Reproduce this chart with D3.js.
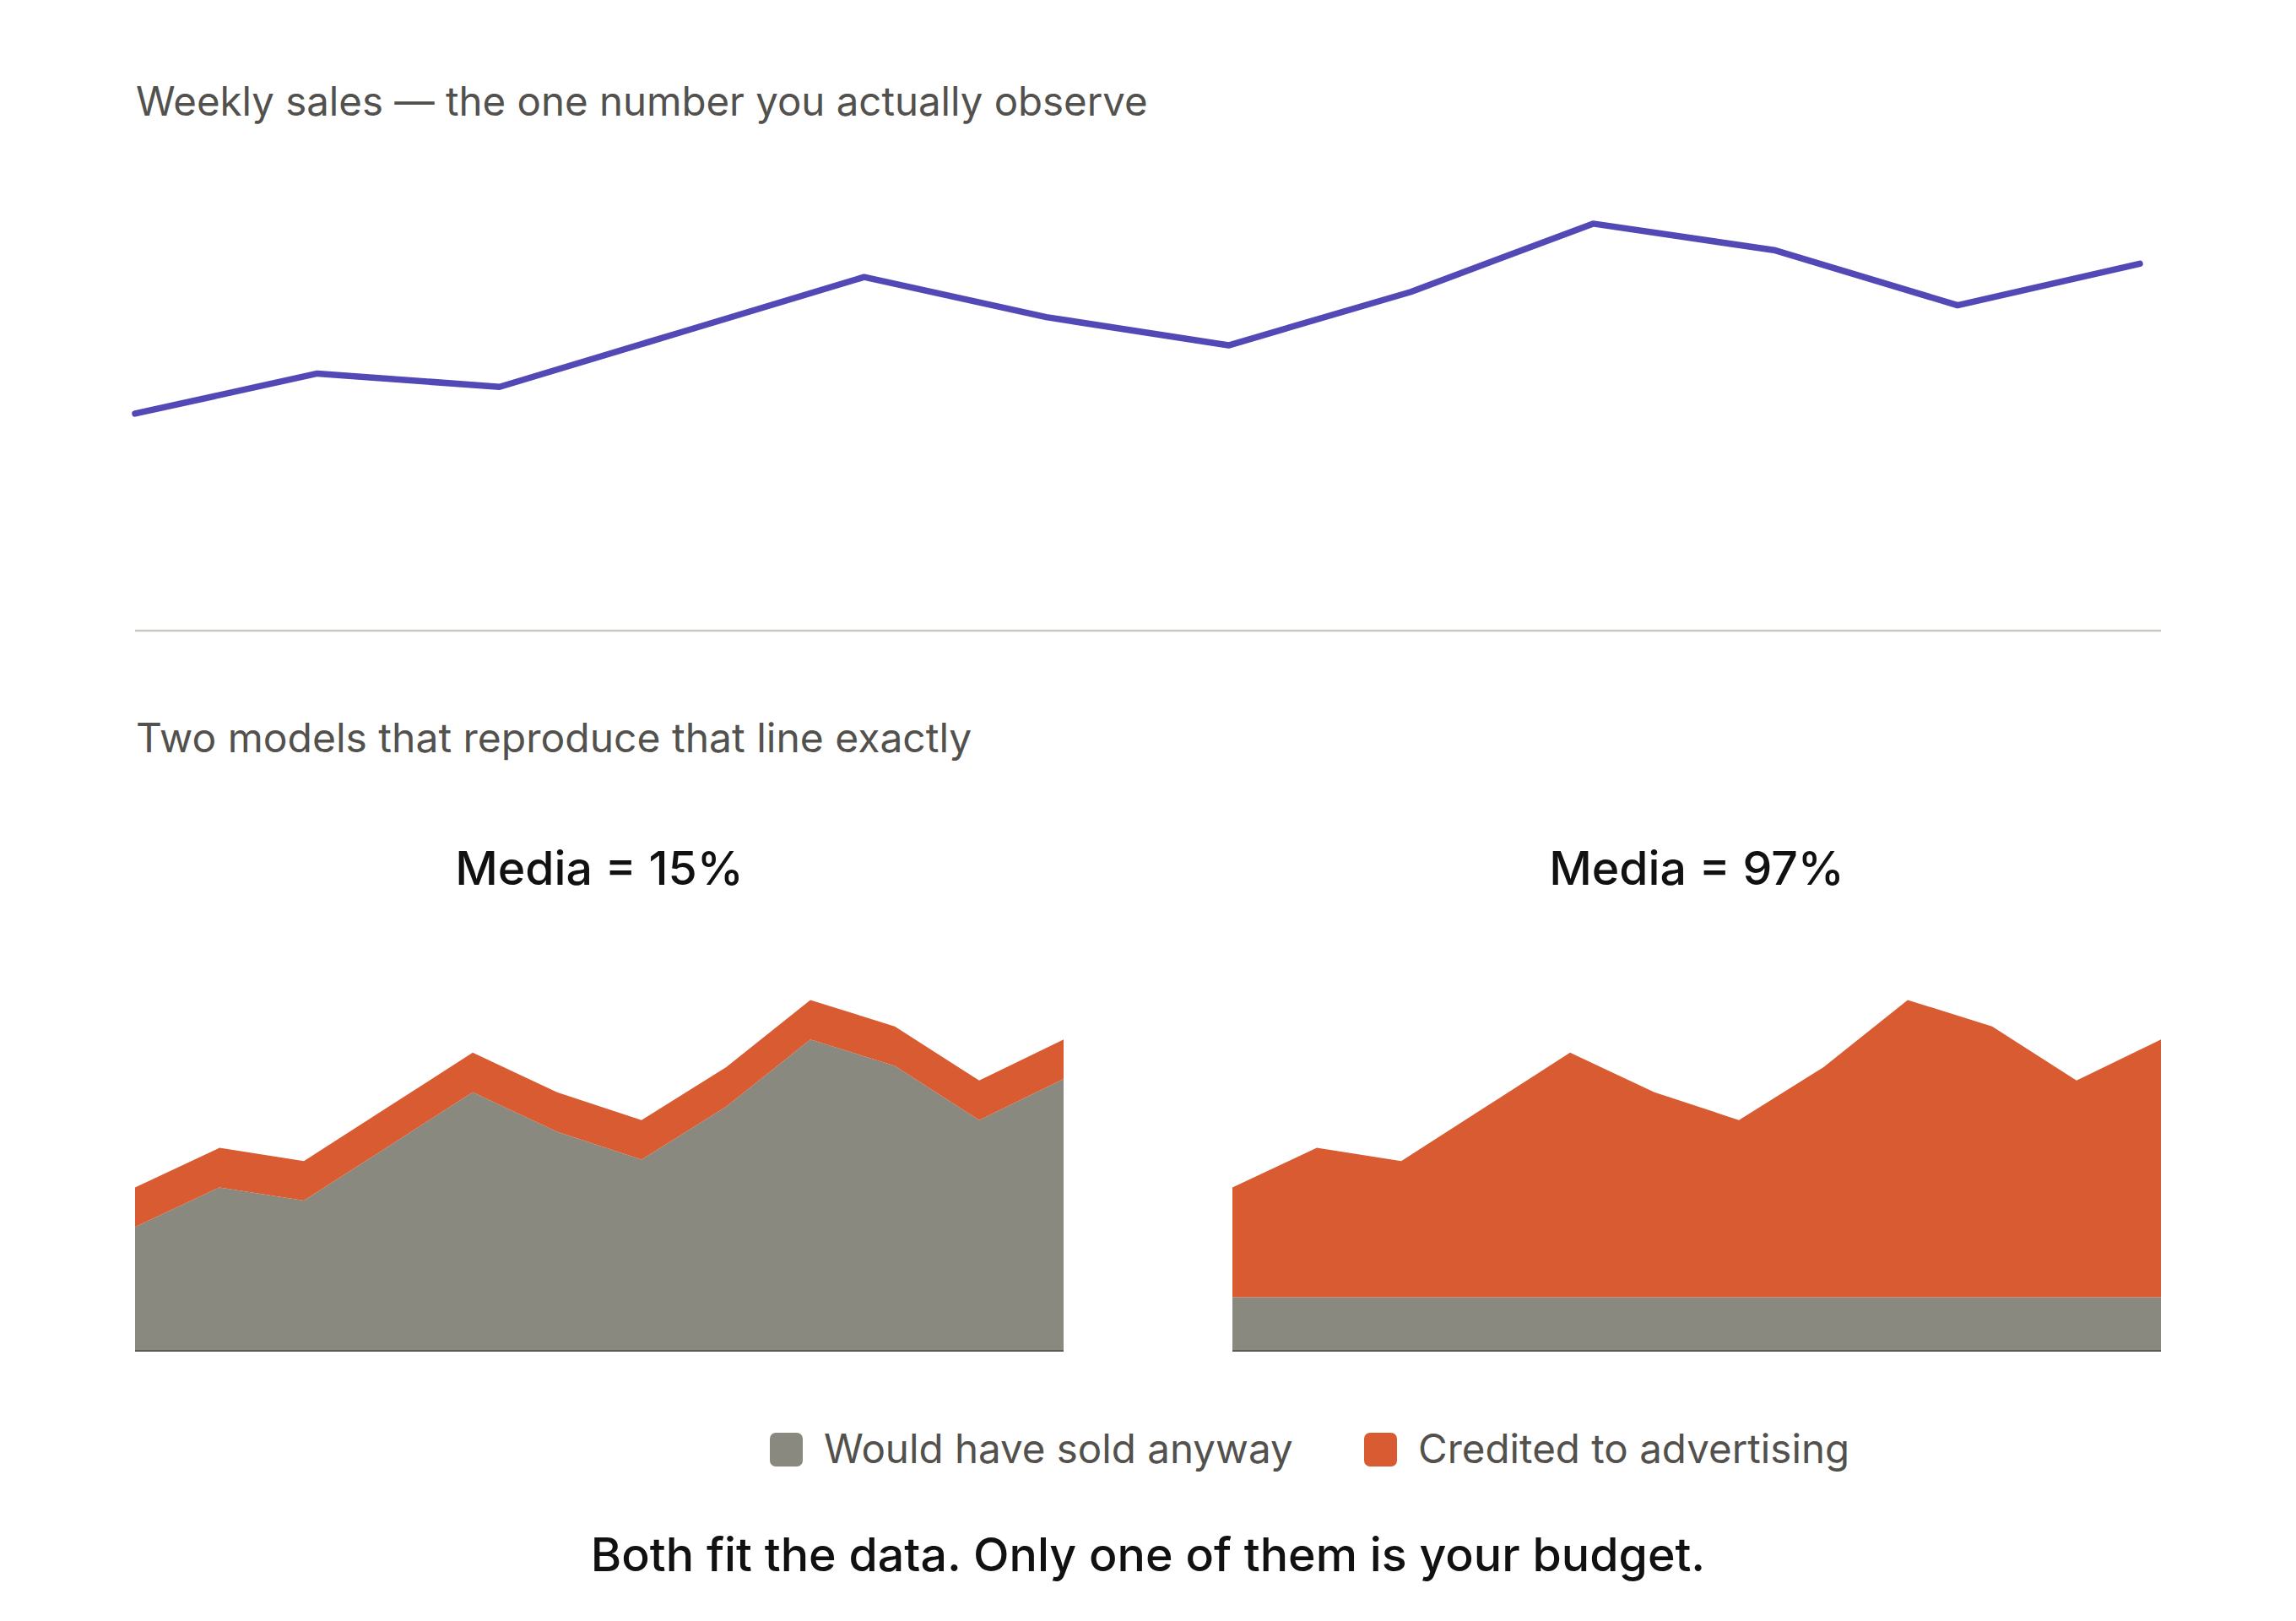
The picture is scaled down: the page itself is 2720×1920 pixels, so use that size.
<!DOCTYPE html>
<html>
<head>
<meta charset="utf-8">
<script src="https://cdn.jsdelivr.net/npm/d3@7"></script>
<style>
  html, body { margin: 0; padding: 0; background: #fff; }
  svg { display: block; }
</style>
</head>
<body>
<div id="main"></div>
<script>
// weekly observed sales (same units in both views)
const weeks = [1, 2, 3, 4, 5, 6, 7, 8, 9, 10, 11, 12];
const sales = [111, 138, 129, 166, 203, 176, 157, 193, 239, 221, 184, 212];

// model A: media = 15%
const baseLow = [84, 111, 102, 139, 176, 149, 130, 166, 212, 194, 157, 185];
const mediaLow = [27, 27, 27, 27, 27, 27, 27, 27, 27, 27, 27, 27];

// model B: media = 97%
const baseHigh = [36, 36, 36, 36, 36, 36, 36, 36, 36, 36, 36, 36];
const mediaHigh = [75, 102, 93, 130, 167, 140, 121, 157, 203, 185, 148, 176];

const panelTitles = ["Media = 15%", "Media = 97%"];
const legendLabels = ["Would have sold anyway", "Credited to advertising"];

const width = 2720;
const height = 1920;
const grayFill = "#8a8980";
const orangeFill = "#d95b32";
const lineColor = "#5248b6";
const textGray = "#52514d";
const sansFont = "Inter, 'Noto Sans', sans-serif";

const svg = d3
  .select("#main")
  .append("svg")
  .attr("width", width)
  .attr("height", height)
  .style("background", "#fff");

// ---------------- top: observed line
svg
  .append("text")
  .attr("x", 161)
  .attr("y", 137)
  .attr("font-family", sansFont)
  .attr("font-size", 47.4)
  .attr("fill", textGray)
  .text("Weekly sales \u2014 the one number you actually observe");

const xLine = d3.scalePoint().domain(weeks).range([160, 2535]);
const yLine = d3.scaleLinear().domain([0, 260]).range([685, 228]);

const line = d3
  .line()
  .x((d, i) => xLine(weeks[i]))
  .y((d) => yLine(d));

svg
  .append("path")
  .datum(sales)
  .attr("d", line)
  .attr("fill", "none")
  .attr("stroke", lineColor)
  .attr("stroke-width", 7.5)
  .attr("stroke-linejoin", "round")
  .attr("stroke-linecap", "round");

// separator
svg
  .append("line")
  .attr("x1", 160)
  .attr("x2", 2560)
  .attr("y1", 747)
  .attr("y2", 747)
  .attr("stroke", "#c9c7c0")
  .attr("stroke-width", 2.5);

// ---------------- bottom: two decompositions
svg
  .append("text")
  .attr("x", 161)
  .attr("y", 891)
  .attr("font-family", sansFont)
  .attr("font-size", 48)
  .attr("fill", textGray)
  .text("Two models that reproduce that line exactly");

const yArea = d3.scaleLinear().domain([0, 260]).range([1599, 1148]);

const panels = [
  { title: panelTitles[0], base: baseLow, media: mediaLow, x0: 160, x1: 1260 },
  { title: panelTitles[1], base: baseHigh, media: mediaHigh, x0: 1460, x1: 2560 },
];

panels.forEach((p) => {
  const x = d3.scalePoint().domain(weeks).range([p.x0, p.x1]);
  const rows = weeks.map((w, i) => ({ week: w, base: p.base[i], media: p.media[i] }));
  const stacked = d3.stack().keys(["base", "media"])(rows);

  const area = d3
    .area()
    .x((d) => x(d.data.week))
    .y0((d) => yArea(d[0]))
    .y1((d) => yArea(d[1]));

  const g = svg.append("g");

  g.selectAll("path")
    .data(stacked)
    .join("path")
    .attr("d", area)
    .attr("fill", (d) => (d.key === "base" ? grayFill : orangeFill));

  g.append("line")
    .attr("x1", p.x0)
    .attr("x2", p.x1)
    .attr("y1", yArea(0) + 1)
    .attr("y2", yArea(0) + 1)
    .attr("stroke", "#5c5b55")
    .attr("stroke-width", 2);

  g.append("text")
    .attr("x", (p.x0 + p.x1) / 2)
    .attr("y", 1048)
    .attr("text-anchor", "middle")
    .attr("font-family", sansFont)
    .attr("font-weight", 500)
    .attr("font-size", 55.4)
    .attr("fill", "#111")
    .text(p.title);
});

// legend
const legendItems = [
  { label: legendLabels[0], color: grayFill, x: 912 },
  { label: legendLabels[1], color: orangeFill, x: 1616 },
];

const legend = svg
  .selectAll("g.legend")
  .data(legendItems)
  .join("g")
  .attr("class", "legend")
  .attr("transform", (d) => `translate(${d.x},1697)`);

legend
  .append("rect")
  .attr("width", 39)
  .attr("height", 40)
  .attr("rx", 7)
  .attr("fill", (d) => d.color);

legend
  .append("text")
  .attr("x", 64)
  .attr("y", 36)
  .attr("font-family", sansFont)
  .attr("font-size", 47.5)
  .attr("fill", textGray)
  .text((d) => d.label);

// footer
svg
  .append("text")
  .attr("x", 1360)
  .attr("y", 1861)
  .attr("text-anchor", "middle")
  .attr("font-family", sansFont)
  .attr("font-weight", 500)
  .attr("font-size", 55.5)
  .attr("fill", "#111")
  .text("Both fit the data. Only one of them is your budget.");
</script>
</body>
</html>
